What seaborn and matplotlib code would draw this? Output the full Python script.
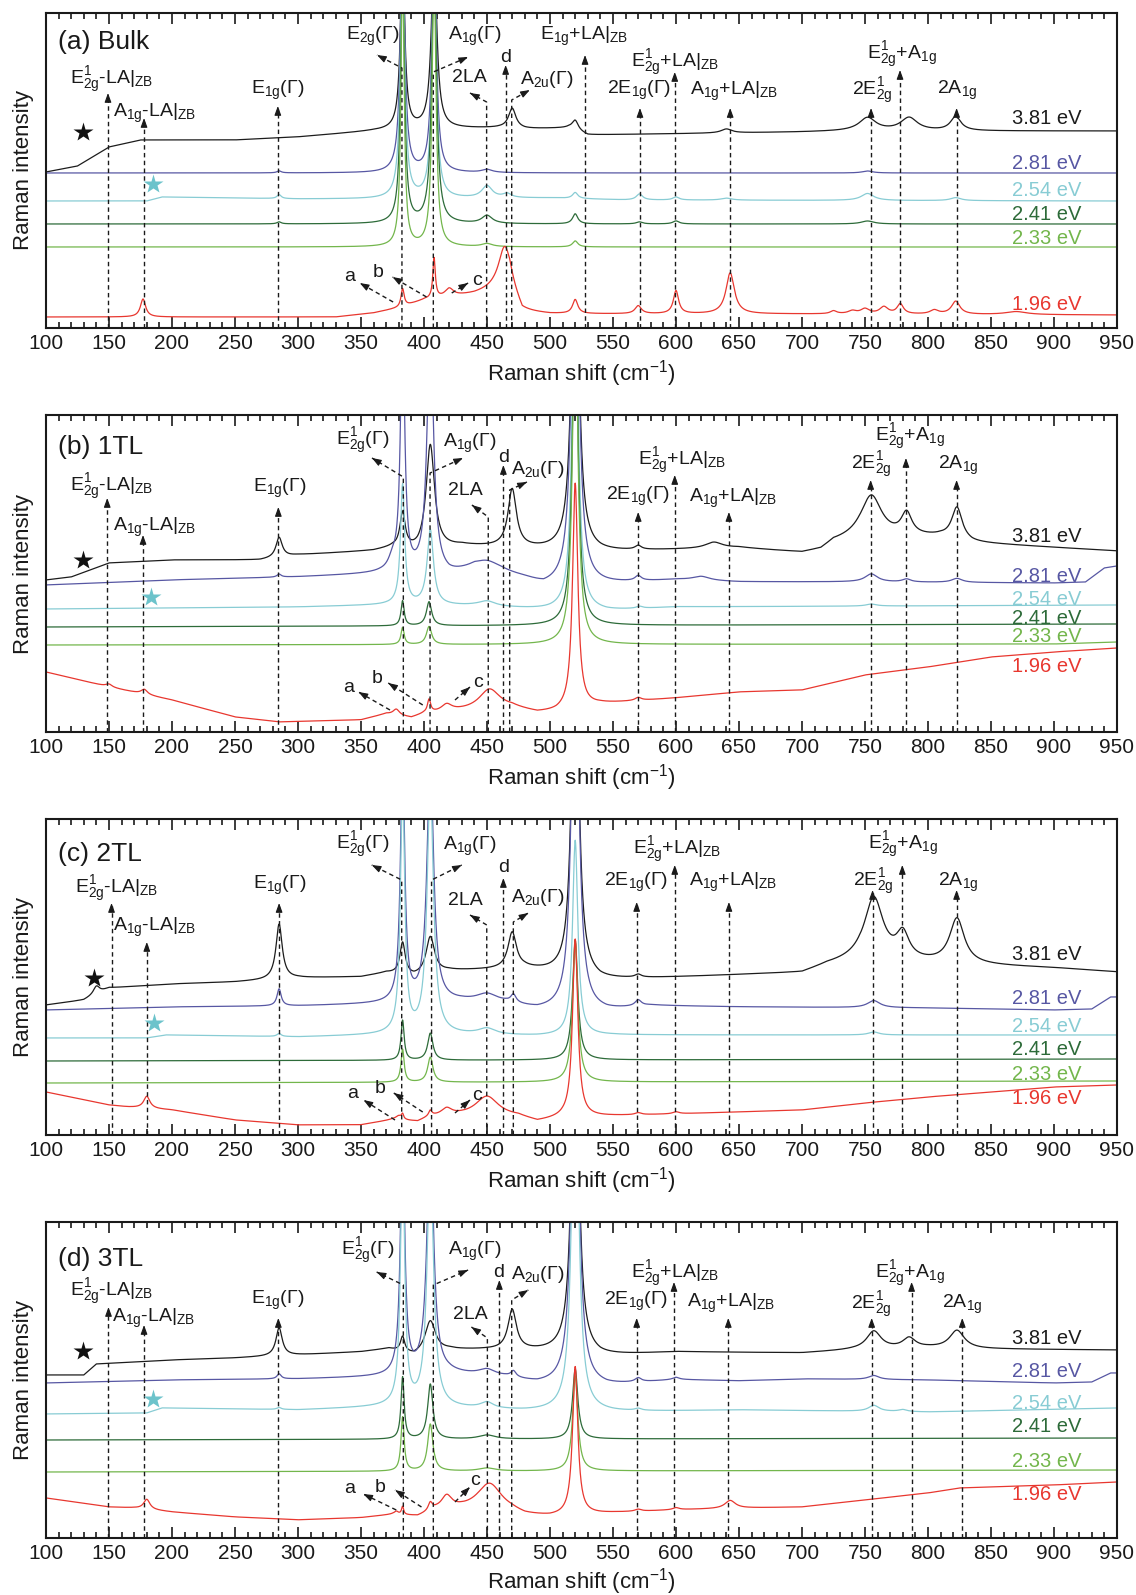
import numpy as np
import pandas as pd
import matplotlib
matplotlib.use("Agg")
import matplotlib.pyplot as plt
from matplotlib.ticker import MultipleLocator
import seaborn as sns

# ------------------------------------------------------------------
# Spectra: straight background through (shift, level) knots plus
# Lorentzian bands (centre cm-1, half width cm-1, height).
# Intensities are arbitrary units, stacking offsets included.
# ------------------------------------------------------------------
ENERGIES = ["3.81 eV", "2.81 eV", "2.54 eV", "2.41 eV", "2.33 eV", "1.96 eV"]
COLORS = ["#1c1c1c", "#5757a3", "#88ccd4", "#2d6b39", "#73b64c", "#e8372f"]

# (a) Bulk
A381_BASE = [(100, 156), (125, 162), (150, 181), (175, 188), (250, 188), (300, 191), (360, 197),
             (395, 199), (460, 200), (480, 199), (515, 200), (530, 193), (700, 196), (740, 197), (950, 197)]
A381_PEAKS = [(383, 2, 180), (408, 2.5, 180), (470, 3.5, 20), (520, 3, 10), (640, 5, 4),
              (752, 8, 13), (785, 8, 13), (822, 5, 14)]
A281_BASE = [(100, 155), (950, 155)]
A281_PEAKS = [(383, 2, 250), (408, 2, 250), (285, 2, 2), (450, 5, 3), (752, 5, 2)]
A254_BASE = [(100, 127), (180, 127), (192, 131), (300, 129), (370, 129), (500, 130), (560, 128), (950, 127)]
A254_PEAKS = [(383, 2, 250), (408, 2, 250), (285, 2, 4), (450, 5, 12), (466, 4, 4), (520, 2.5, 6),
              (571, 3, 6), (600, 3, 3), (640, 5, 2), (752, 6, 7), (822, 5, 3)]
A241_BASE = [(100, 104), (950, 104)]
A241_PEAKS = [(383, 1.8, 260), (408, 2.2, 260), (285, 2, 2), (450, 5, 8), (520, 2.5, 10),
              (571, 3, 2), (600, 3, 3), (752, 6, 3)]
A233_BASE = [(100, 81), (950, 81)]
A233_PEAKS = [(383, 1.5, 280), (408, 1.8, 280), (450, 5, 3), (520, 2.5, 6)]
A196_BASE = [(100, 11), (330, 11), (360, 15), (380, 20), (400, 28), (440, 34), (455, 38), (468, 40),
             (478, 16), (500, 14), (690, 14), (950, 13)]
A196_PEAKS = [(177, 2.5, 18), (383, 1.5, 18), (408, 1.2, 40), (420, 4, 8), (464, 6, 42), (520, 2.5, 14),
              (570, 3, 8), (600, 2.5, 23), (643, 4, 41), (725, 3, 3), (740, 4, 3), (750, 4, 5),
              (765, 4, 7), (778, 3, 10), (805, 4, 4), (822, 4, 13), (870, 10, 3)]

# (b) 1TL
B381_BASE = [(100, 152), (120, 155), (150, 169), (200, 172), (270, 172), (300, 177), (360, 181), (375, 184),
             (395, 180), (430, 186), (500, 182), (540, 180), (650, 184), (700, 179), (715, 182), (725, 190),
             (745, 194), (810, 195), (835, 189), (950, 181)]
B381_PEAKS = [(285, 3, 20), (383, 2.5, 35), (405, 4, 105), (470, 4, 58), (520, 3, 400), (570, 3, 4),
              (630, 8, 6), (755, 10, 42), (783, 5, 22), (823, 5, 32)]
B281_BASE = [(100, 147), (200, 152), (300, 155), (365, 158), (420, 156), (440, 163), (460, 160), (480, 153),
             (495, 146), (545, 148), (600, 152), (650, 150), (740, 150), (900, 149), (925, 150), (940, 164),
             (950, 166)]
B281_PEAKS = [(285, 2, 3), (375, 4, 10), (383, 2, 250), (405, 3, 250), (450, 12, 8), (520, 3, 450),
              (570, 3, 5), (620, 8, 4), (755, 6, 8), (783, 4, 3), (823, 5, 4)]
B254_BASE = [(100, 123), (300, 125), (370, 127), (440, 126), (500, 122), (545, 121), (600, 125), (950, 127)]
B254_PEAKS = [(383, 2, 120), (405, 3, 75), (450, 8, 5), (520, 2.5, 400), (571, 3, 2), (755, 5, 2)]
B241_BASE = [(100, 105), (950, 108)]
B241_PEAKS = [(383, 1.5, 25), (404, 2.5, 24), (520, 2.5, 350)]
B233_BASE = [(100, 87), (900, 88), (950, 90)]
B233_PEAKS = [(383, 1.5, 17), (404, 2.5, 18), (520, 2.5, 350)]
B196_BASE = [(100, 60), (150, 45), (200, 32), (250, 15), (285, 10), (350, 12), (370, 18), (390, 14),
             (400, 18), (430, 21), (470, 24), (490, 19), (505, 20), (540, 28), (600, 34), (650, 40),
             (700, 42), (750, 57), (800, 65), (850, 75), (900, 80), (950, 84)]
B196_PEAKS = [(150, 3, 3), (178, 3, 5), (378, 3, 6), (404, 1.5, 13), (418, 5, 7), (452, 10, 20),
              (520, 2.5, 225), (570, 3, 3)]

# (c) 2TL
C381_BASE = [(100, 130), (130, 135), (150, 147), (200, 151), (250, 153), (300, 157), (350, 158), (370, 162),
             (392, 158), (420, 164), (480, 166), (505, 162), (540, 155), (650, 160), (700, 162), (720, 170),
             (745, 175), (800, 172), (835, 170), (900, 167), (950, 163)]
C381_PEAKS = [(140, 3, 8), (285, 3, 55), (383, 2.5, 32), (405, 4, 37), (470, 4, 36), (520, 3, 400),
              (570, 3, 3), (757, 9, 62), (780, 6, 25), (823, 7, 45)]
C281_BASE = [(100, 125), (200, 128), (300, 129), (370, 131), (430, 133), (465, 131), (490, 125), (545, 124),
             (580, 129), (650, 128), (800, 127), (900, 125), (930, 126), (945, 138), (950, 138)]
C281_PEAKS = [(285, 2, 17), (383, 2, 250), (405, 3, 250), (450, 10, 8), (471, 2.5, 8), (520, 3, 450),
              (570, 3, 6), (757, 6, 7)]
C254_BASE = [(100, 97), (180, 97), (195, 100), (300, 98), (370, 100), (440, 100), (490, 99), (550, 100),
             (650, 100), (950, 100)]
C254_PEAKS = [(285, 2, 3), (383, 2, 250), (405, 3, 250), (450, 8, 6), (520, 2.5, 195), (757, 5, 3)]
C241_BASE = [(100, 74), (950, 76)]
C241_PEAKS = [(383, 1.5, 40), (405, 2.5, 27), (520, 2.5, 120)]
C233_BASE = [(100, 52), (950, 54)]
C233_PEAKS = [(383, 1.5, 33), (405, 2.5, 25), (520, 2.5, 140)]
C196_BASE = [(100, 43), (150, 30), (165, 28), (200, 25), (250, 15), (300, 10), (350, 10), (375, 15),
             (395, 13), (405, 18), (430, 19), (475, 18), (490, 13), (510, 17), (550, 19), (600, 21),
             (650, 23), (700, 25), (750, 32), (800, 38), (850, 43), (900, 48), (950, 50)]
C196_PEAKS = [(180, 3, 12), (380, 3, 4), (383, 1, 5), (405, 1.5, 5), (418, 5, 7), (450, 11, 20),
              (520, 2.5, 178), (570, 3, 2), (600, 3, 2)]

# (d) 3TL
D381_BASE = [(100, 163), (130, 163), (140, 174), (200, 178), (250, 180), (300, 183), (350, 186), (372, 189),
             (392, 182), (420, 188), (450, 188), (510, 186), (540, 182), (600, 186), (700, 185), (740, 188),
             (800, 190), (840, 189), (950, 188)]
D381_PEAKS = [(285, 3, 28), (383, 2, 15), (405, 5, 32), (470, 4, 40), (520, 3, 400), (757, 7, 18),
              (785, 6, 10), (823, 7, 18)]
D281_BASE = [(100, 155), (200, 158), (300, 159), (370, 161), (420, 164), (465, 160), (490, 154), (545, 152),
             (600, 158), (650, 157), (700, 159), (800, 158), (900, 155), (930, 156), (945, 165), (950, 165)]
D281_PEAKS = [(285, 2, 5), (383, 2, 250), (405, 3, 250), (450, 8, 6), (471, 2.5, 6), (520, 3, 450),
              (570, 3, 4), (600, 3, 2), (757, 5, 4)]
D254_BASE = [(100, 124), (180, 125), (192, 130), (300, 128), (370, 131), (440, 129), (480, 127), (550, 126),
             (650, 128), (800, 126), (950, 130)]
D254_PEAKS = [(285, 2, 2), (383, 2, 250), (405, 3, 250), (450, 6, 6), (520, 3, 400), (570, 3, 2),
              (757, 5, 6), (780, 4, 2)]
D241_BASE = [(100, 98), (950, 100)]
D241_PEAKS = [(383, 1.5, 62), (405, 2.5, 55), (450, 8, 4), (520, 2.5, 70)]
D233_BASE = [(100, 66), (950, 68)]
D233_PEAKS = [(383, 1.5, 54), (405, 2.5, 47), (450, 8, 3), (520, 2.5, 95)]
D196_BASE = [(100, 40), (150, 31), (170, 30), (200, 26), (250, 21), (300, 18), (350, 20), (375, 23),
             (395, 21), (410, 27), (430, 28), (470, 25), (480, 22), (500, 21), (550, 25), (600, 28),
             (660, 30), (700, 31), (750, 38), (800, 45), (825, 50), (900, 53), (950, 56)]
D196_PEAKS = [(180, 3, 10), (378, 2, 3), (383, 1, 8), (405, 2, 8), (418, 5, 13), (452, 12, 28),
              (520, 2.5, 148), (570, 3, 2), (600, 3, 2), (643, 5, 8)]

SHIFT_TICKS = list(range(100, 951, 50))

# ------------------------------------------------------------------
# Peak-assignment labels
# ------------------------------------------------------------------
LBL = {
    "E2g-LA": r"E$^1_{2g}$-LA$|_{ZB}$",
    "A1g-LA": r"A$_{1g}$-LA$|_{ZB}$",
    "E1g": r"E$_{1g}$(Γ)",
    "E2g": r"E$^1_{2g}$(Γ)",
    "E2g0": r"E$_{2g}$(Γ)",
    "A1g": r"A$_{1g}$(Γ)",
    "2LA": "2LA",
    "d": "d",
    "A2u": r"A$_{2u}$(Γ)",
    "E1g+LA": r"E$_{1g}$+LA$|_{ZB}$",
    "E2g+LA": r"E$^1_{2g}$+LA$|_{ZB}$",
    "2E1g": r"2E$_{1g}$(Γ)",
    "A1g+LA": r"A$_{1g}$+LA$|_{ZB}$",
    "E2g+A1g": r"E$^1_{2g}$+A$_{1g}$",
    "2E2g": r"2E$^1_{2g}$",
    "2A1g": r"2A$_{1g}$",
}

# layout of the annotations for each panel (x in cm-1, y in axis units)
LAYOUTS = [
    dict(title="(a) Bulk", title_y=288, height=315,
         texts=[("E2g-LA", 152, 251), ("A1g-LA", 186, 218), ("E1g", 284, 241), ("E2g0", 359, 295),
                ("A1g", 440, 295), ("2LA", 436, 253), ("d", 464.5, 273), ("A2u", 497, 251),
                ("E1g+LA", 527, 295), ("E2g+LA", 599, 268), ("2E1g", 571, 241), ("A1g+LA", 646, 240),
                ("E2g+A1g", 779, 276), ("2E2g", 756, 240), ("2A1g", 823, 241)],
         vert=[(149.2, 235), (177.8, 210), (284, 222), (527.8, 273), (599, 256), (571.4, 220),
               (643, 220), (777.8, 258), (754.8, 220), (822.7, 220), (464.8, 263)],
         bent=[(382.5, 260, 362.7, 273), (407.4, 256, 435, 271), (449.7, 226, 436.5, 235),
               (469.6, 228, 484, 238)],
         slant=[(375.5, 26, 349, 45), (402, 31, 375, 51), (422, 35, 435, 45)],
         letters=[("a", 341, 52), ("b", 363.5, 56), ("c", 442, 48)],
         stars=[(129, 196), (185, 144)],
         ev_y=[211, 166, 139, 115, 91, 25]),
    dict(title="(b) 1TL", title_y=287, height=317,
         texts=[("E2g-LA", 152, 248), ("A1g-LA", 186, 208), ("E1g", 285.7, 247), ("E2g", 351, 294),
                ("A1g", 436.5, 292), ("2LA", 432.5, 244), ("d", 463, 277), ("A2u", 490, 265),
                ("2E1g", 570, 239), ("E2g+LA", 604.4, 274), ("A1g+LA", 645.6, 237),
                ("E2g+A1g", 785.3, 298), ("2E2g", 755.2, 270), ("2A1g", 824.2, 270)],
         vert=[(148.6, 234), (177, 197), (284.4, 225), (463, 267), (570, 220), (599, 257),
               (642, 220), (782.5, 274), (754.5, 252), (822.7, 252)],
         bent=[(383.6, 255, 358.7, 274), (404.8, 259, 431, 274), (451, 215, 438, 227),
               (468, 242, 481.7, 250)],
         slant=[(373, 22, 348, 40), (399, 27, 371.6, 49), (424.6, 32, 436.5, 45)],
         letters=[("a", 340, 45), ("b", 362.7, 54), ("c", 443, 50)],
         stars=[(129, 172), (183, 135)],
         ev_y=[197, 157, 134, 115, 97, 67]),
    dict(title="(c) 2TL", title_y=283, height=316,
         texts=[("E2g-LA", 156, 249), ("A1g-LA", 186.5, 211), ("E1g", 285.7, 253), ("E2g", 351, 293),
                ("A1g", 436.5, 292), ("2LA", 432.5, 237), ("d", 463, 270), ("A2u", 490, 240),
                ("E2g+LA", 601.2, 288), ("2E1g", 568.3, 256), ("A1g+LA", 645.6, 256),
                ("E2g+A1g", 779.7, 293), ("2E2g", 756.7, 256), ("2A1g", 824.2, 256)],
         vert=[(152, 232), (180, 193), (285, 232), (463, 257), (599, 270), (568.8, 233),
               (642, 233), (779.6, 270), (756, 245), (822.7, 245)],
         bent=[(382.3, 255, 358.5, 270), (406, 255, 430, 270), (449.8, 210, 436.5, 220),
               (470.9, 213, 482.8, 222)],
         slant=[(377, 15, 352, 35), (399, 23, 376, 42), (424.6, 22, 436.5, 35)],
         letters=[("a", 343, 42), ("b", 365, 47), ("c", 441.8, 40)],
         stars=[(138, 157), (186, 112)],
         ev_y=[182, 138, 110, 87, 62, 38]),
    dict(title="(d) 3TL", title_y=281, height=316,
         texts=[("E2g-LA", 152, 249), ("A1g-LA", 185.7, 223), ("E1g", 284, 241), ("E2g", 355, 290),
                ("A1g", 440.5, 290), ("2LA", 436.5, 226), ("d", 459, 268), ("A2u", 490.5, 266),
                ("2E1g", 568.3, 240), ("E2g+LA", 599.2, 267), ("A1g+LA", 644, 238),
                ("E2g+A1g", 785.7, 267), ("2E2g", 755.2, 236), ("2A1g", 827.4, 237)],
         vert=[(149.6, 231), (177.8, 213), (284.4, 220), (459.8, 258), (568.8, 220), (598.4, 256),
               (641.5, 220), (787, 256), (755.3, 220), (827.2, 220)],
         bent=[(383.6, 253, 362.4, 266), (407.4, 253, 435, 268), (450.3, 200, 437.6, 211),
               (469.6, 238, 482.8, 248)],
         slant=[(378, 28, 351.8, 44), (398, 31, 377, 48), (424.6, 36, 436.5, 51)],
         letters=[("a", 341, 50), ("b", 365, 51), ("c", 440.5, 58)],
         stars=[(129.6, 187), (184.7, 139)],
         ev_y=[201, 168, 136, 113, 78, 45]),
]

SPECTRA = [
    [(A381_BASE, A381_PEAKS), (A281_BASE, A281_PEAKS), (A254_BASE, A254_PEAKS),
     (A241_BASE, A241_PEAKS), (A233_BASE, A233_PEAKS), (A196_BASE, A196_PEAKS)],
    [(B381_BASE, B381_PEAKS), (B281_BASE, B281_PEAKS), (B254_BASE, B254_PEAKS),
     (B241_BASE, B241_PEAKS), (B233_BASE, B233_PEAKS), (B196_BASE, B196_PEAKS)],
    [(C381_BASE, C381_PEAKS), (C281_BASE, C281_PEAKS), (C254_BASE, C254_PEAKS),
     (C241_BASE, C241_PEAKS), (C233_BASE, C233_PEAKS), (C196_BASE, C196_PEAKS)],
    [(D381_BASE, D381_PEAKS), (D281_BASE, D281_PEAKS), (D254_BASE, D254_PEAKS),
     (D241_BASE, D241_PEAKS), (D233_BASE, D233_PEAKS), (D196_BASE, D196_PEAKS)],
]

# ------------------------------------------------------------------
sns.set_theme(style="ticks")
plt.rcParams["font.family"] = ["Liberation Sans", "DejaVu Sans"]
plt.rcParams.update({
    "mathtext.fontset": "custom",
    "mathtext.rm": "Liberation Sans",
    "mathtext.it": "Liberation Sans:italic",
    "mathtext.bf": "Liberation Sans:bold",
    "mathtext.sf": "Liberation Sans",
    "mathtext.default": "regular",
})

GRID = np.linspace(100, 950, 3401)
INK = "#1a1a1a"
FIG_W, FIG_H = 1136, 1595
AX_LEFT, AX_RIGHT = 46, 1117
AX_BOTTOMS = [328, 732, 1135, 1538]
PX_PER_CM = (AX_RIGHT - AX_LEFT) / 850.0


def spectrum(base, peaks):
    bx, by = zip(*base)
    y = np.interp(GRID, bx, by)
    for c, w, h in peaks:
        y = y + h / (1.0 + ((GRID - c) / w) ** 2)
    return y


def arrow_head(ax, x0, y0, x1, y1):
    dx, dy = (x1 - x0) * PX_PER_CM, (y1 - y0)
    n = np.hypot(dx, dy)
    ux, uy = dx / n, dy / n
    back = (x1 - ux * 6 / PX_PER_CM, y1 - uy * 6)
    ax.annotate("", xy=(x1, y1), xytext=back,
                arrowprops=dict(arrowstyle="-|>,head_length=0.55,head_width=0.2",
                                color=INK, lw=0.8, shrinkA=0, shrinkB=0,
                                mutation_scale=10))


DASH = dict(color=INK, lw=1.0, ls=(0, (3.2, 2.4)), solid_capstyle="butt")

fig = plt.figure(figsize=(FIG_W / 100, FIG_H / 100), dpi=100)

for idx, (layout, spectra) in enumerate(zip(LAYOUTS, SPECTRA)):
    h = layout["height"]
    bottom = AX_BOTTOMS[idx]
    ax = fig.add_axes([AX_LEFT / FIG_W, 1 - bottom / FIG_H,
                       (AX_RIGHT - AX_LEFT) / FIG_W, h / FIG_H])

    frames = []
    for energy, (base, peaks) in zip(ENERGIES, spectra):
        frames.append(pd.DataFrame({"shift": GRID, "intensity": spectrum(base, peaks),
                                    "energy": energy}))
    df = pd.concat(frames, ignore_index=True)
    sns.lineplot(data=df, x="shift", y="intensity", hue="energy", hue_order=ENERGIES,
                 palette=COLORS, estimator=None, sort=False, legend=False,
                 linewidth=0.9, ax=ax)

    ax.set_xlim(100, 950)
    ax.set_ylim(0, h)
    ax.set_yticks([])
    ax.set_xticks(SHIFT_TICKS)
    ax.xaxis.set_minor_locator(MultipleLocator(10))
    ax.tick_params(axis="x", which="both", direction="in", top=True, bottom=True,
                   width=1.2, color=INK, labelsize=15, pad=4, labelcolor=INK)
    ax.tick_params(axis="x", which="major", length=8)
    ax.tick_params(axis="x", which="minor", length=4.5)
    for s in ax.spines.values():
        s.set_linewidth(1.5)
        s.set_color(INK)
    ax.set_xlabel("Raman shift (cm$^{-1}$)", fontsize=16, color=INK,
                  labelpad=4 if idx < 3 else 2.5)
    ax.set_ylabel("Raman intensity", fontsize=16, color=INK, labelpad=9)

    # panel title
    ax.text(109.5, layout["title_y"] - 9, layout["title"], fontsize=19, color=INK,
            ha="left", va="baseline")

    # assignment labels
    for key, x, y in layout["texts"]:
        ax.text(x, y - 7, LBL[key], fontsize=14, color=INK, ha="center", va="baseline")
    for lab, x, y in layout["letters"]:
        ax.text(x, y - 5, lab, fontsize=14, color=INK, ha="center", va="baseline")

    # dashed arrows
    for x, tip in layout["vert"]:
        ax.plot([x, x], [0, tip - 3], **DASH)
        arrow_head(ax, x, 0, x, tip)
    for x, bend, hx, hy in layout["bent"]:
        ax.plot([x, x, hx], [0, bend, hy], **DASH)
        arrow_head(ax, x, bend, hx, hy)
    for x0, y0, x1, y1 in layout["slant"]:
        ax.plot([x0, x1], [y0, y1], **DASH)
        arrow_head(ax, x0, y0, x1, y1)

    # stars marking the background features
    (sx0, sy0), (sx1, sy1) = layout["stars"]
    ax.plot([sx0], [sy0], marker="*", ms=15, color="#111111", mec="none")
    ax.plot([sx1], [sy1], marker="*", ms=15, color="#6cc3cb", mec="none")

    # excitation energies
    for energy, color, y in zip(ENERGIES, COLORS, layout["ev_y"]):
        ax.text(922, y - 7, energy, fontsize=14.5, color=color, ha="right", va="baseline")

fig.savefig("out.png", dpi=100)
